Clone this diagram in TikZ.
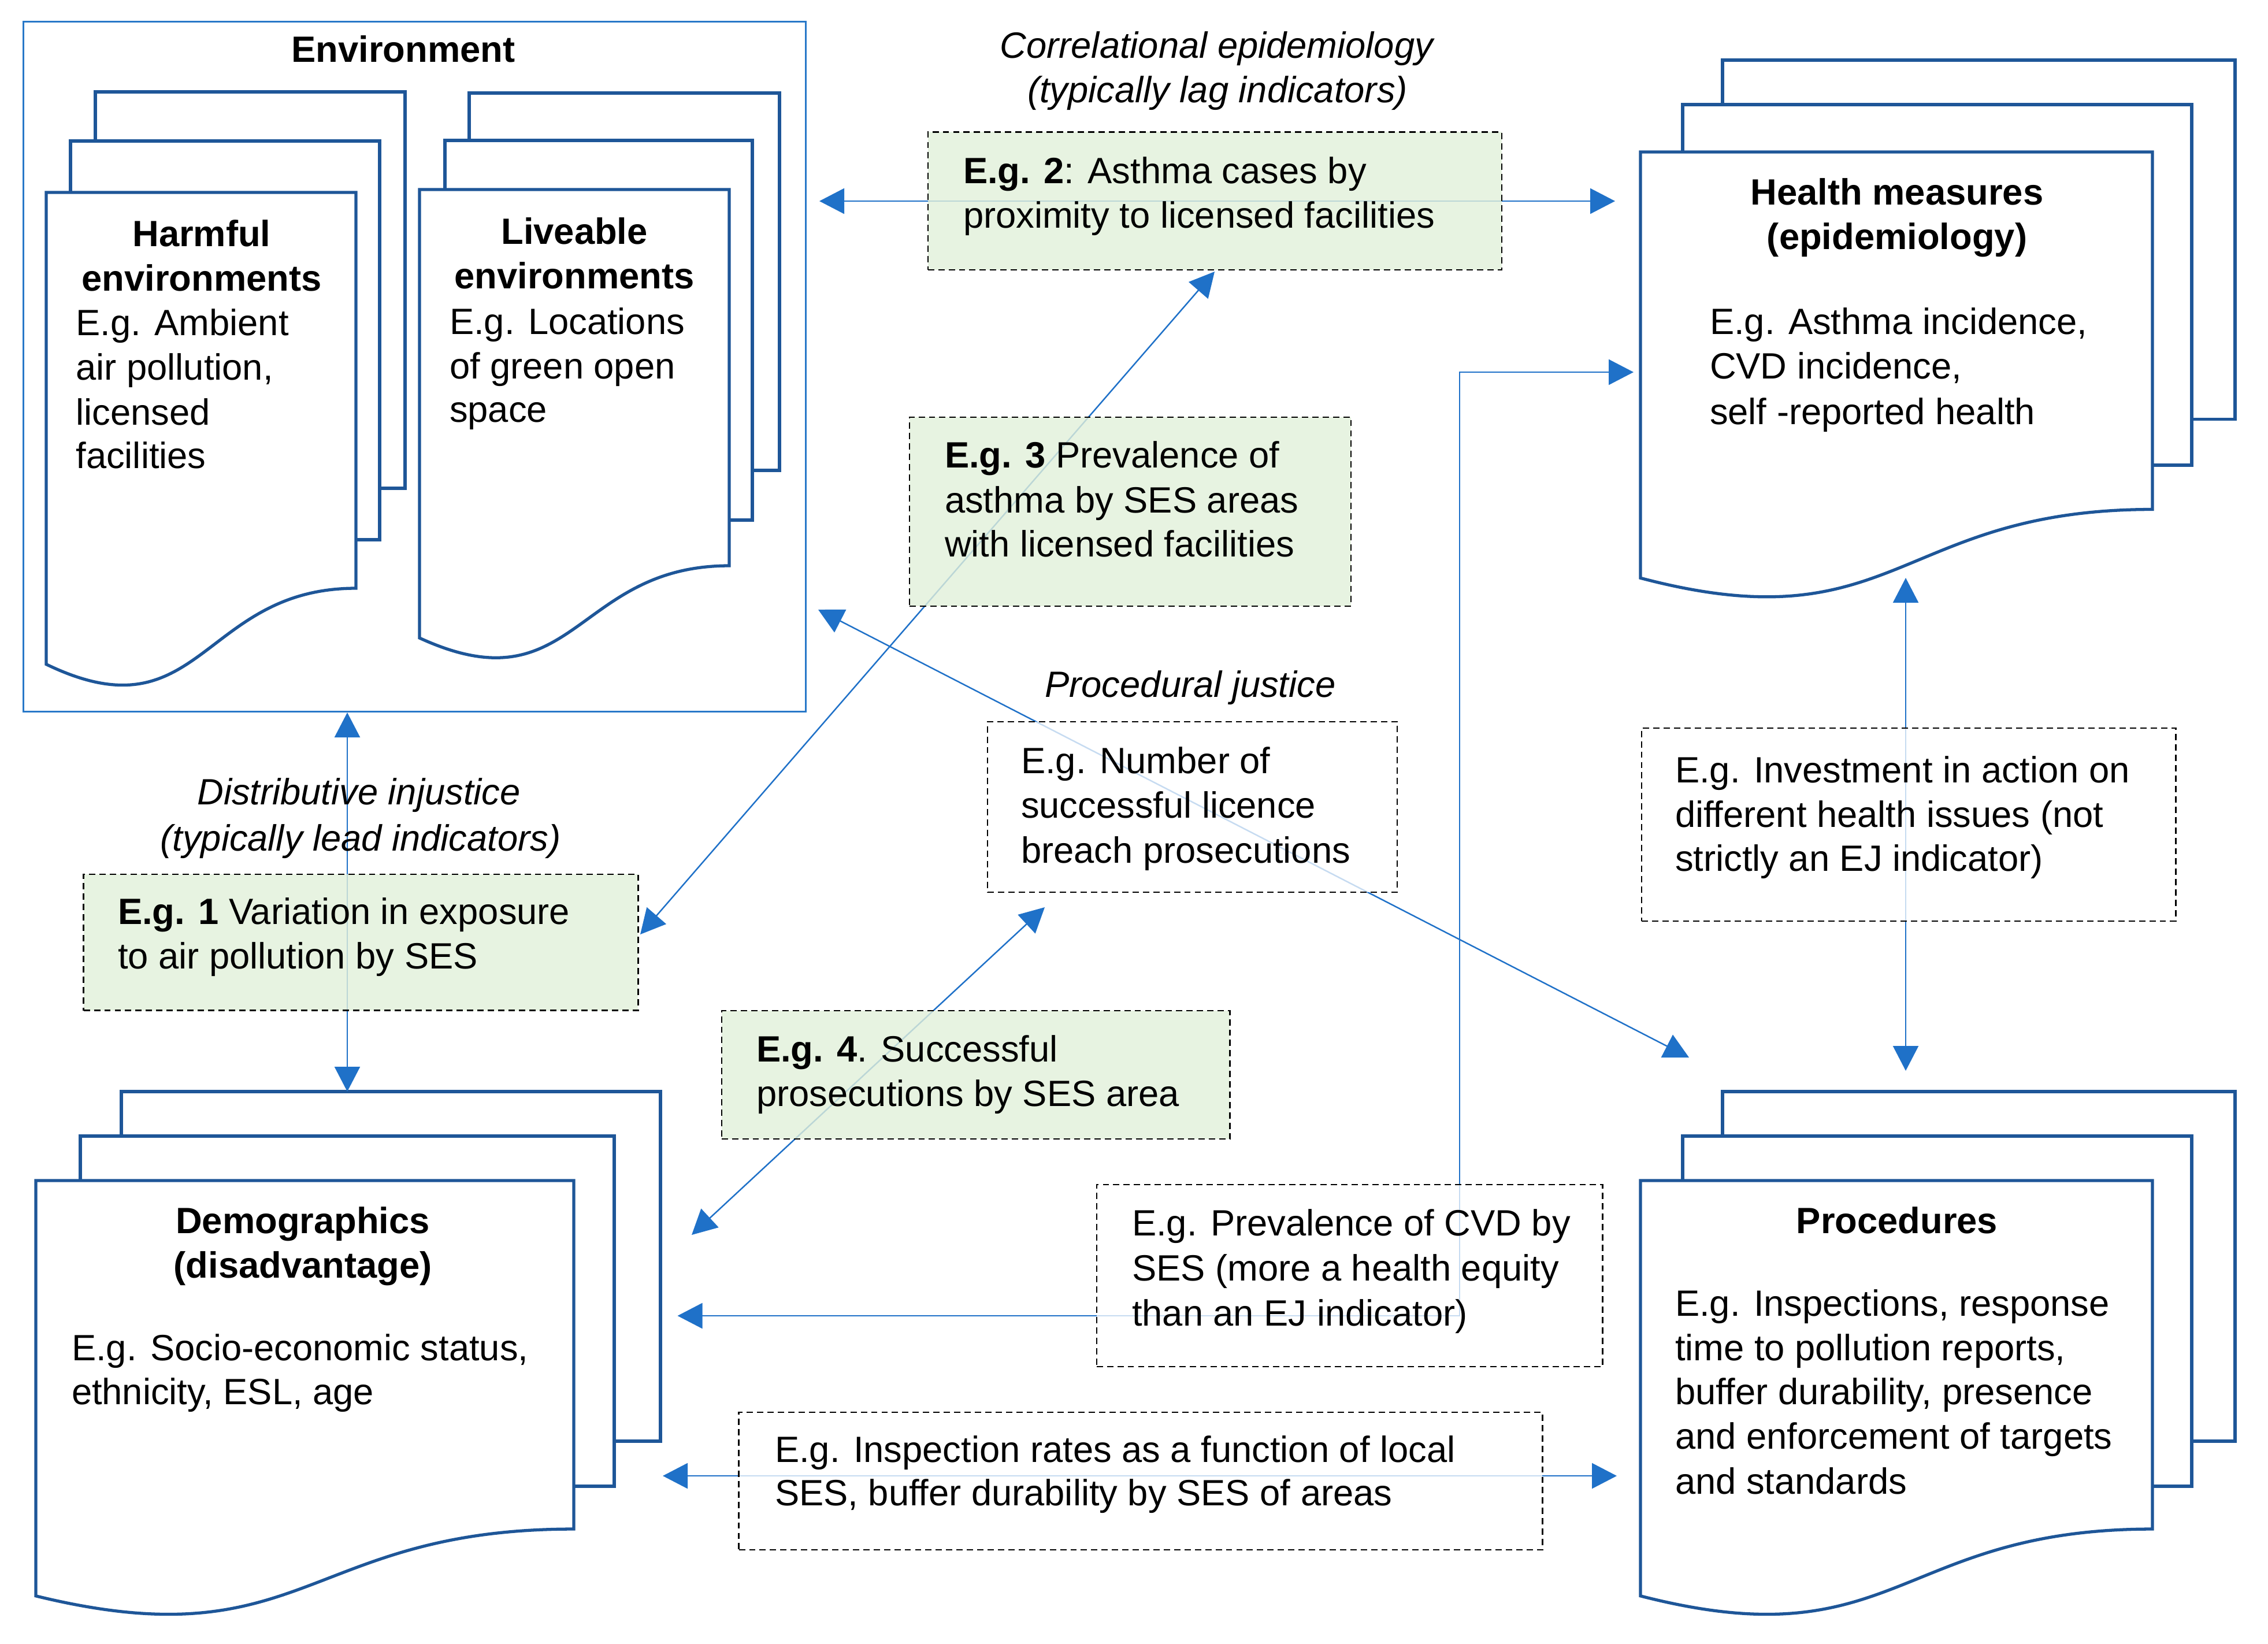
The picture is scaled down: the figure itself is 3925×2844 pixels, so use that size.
\documentclass[tikz,border=0pt]{standalone}
\usepackage{fontspec}
\setmainfont{Liberation Sans}
\usetikzlibrary{arrows.meta}
\definecolor{stackblue}{RGB}{30,86,152}
\definecolor{envblue}{RGB}{40,120,200}
\definecolor{arrblue}{RGB}{31,113,200}
\definecolor{egreen}{RGB}{226,240,218}
\newcommand{\mydoc}[4]{%
  \pgfmathsetmacro{\dA}{#4-#3}%
  \pgfmathsetmacro{\dL}{#4+0.192*\dA}%
  \pgfmathsetmacro{\dC}{#4+0.381*\dA}%
  \pgfmathsetmacro{\dM}{(#1+#2)/2}%
  \draw[stackline,fill=white] (#1,#3) -- (#2,#3) -- (#2,#4) .. controls (\dM,#4) and (\dM,\dC) .. (#1,\dL) -- cycle;}
\newcommand{\bnode}[6]{%
  \pgfmathsetmacro{\bw}{(#5-#3)/100}%
  \pgfmathsetmacro{\bh}{(#6-#4)/100}%
  \node[#1,minimum width=\bw cm,minimum height=\bh cm] (#2) at ({(#3+#5)/2},{(#4+#6)/2}) {};}
\newcommand{\tl}[4]{\node[txt,anchor=base west] (#1) at (#2,#3) {#4};}
\newcommand{\tc}[4]{\node[txt,anchor=base] (#1) at (#2,#3) {#4};}
\begin{document}
\begin{tikzpicture}[x=0.01cm,y=-0.01cm,
  stackline/.style={draw=stackblue,line width=1.5pt,line join=miter},
  envline/.style={draw=envblue,line width=0.8pt},
  conn/.style={draw=arrblue,line width=0.7pt,>={Triangle[length=4.3mm,width=4.4mm]},<->},
  dbox/.style={shape=rectangle,draw=black,line width=0.7pt,dash pattern=on 3.1pt off 2pt,inner sep=0pt,outer sep=0pt},
  gbox/.style={dbox,fill=egreen,fill opacity=0.8},
  wbox/.style={dbox,fill=white,fill opacity=0.75},
  txt/.style={inner sep=0pt,outer sep=0pt,font=\fontsize{18}{22}\selectfont,text=black}]
\useasboundingbox (0,0) rectangle (3925,2844);
\fill[white] (0,0) rectangle (3925,2844);

% Environment frame
\bnode{envline,shape=rectangle,inner sep=0pt,outer sep=0pt}{env}{40.8}{38}{1394}{1231}

% Harmful stack
\draw[stackline,fill=white] (165,159) rectangle (701,845);
\draw[stackline,fill=white] (122,244) rectangle (657,934);
\mydoc{80}{616}{333}{1018}
% Liveable stack
\draw[stackline,fill=white] (812,161) rectangle (1349,814);
\draw[stackline,fill=white] (770,243) rectangle (1302,900);
\mydoc{726}{1262}{328}{979}
% Health stack
\draw[stackline,fill=white] (2981,104) rectangle (3868,725.5);
\draw[stackline,fill=white] (2912,181) rectangle (3793,805);
\mydoc{2839}{3725}{263}{881.5}
% Demographics stack
\draw[stackline,fill=white] (210,1889) rectangle (1143,2494);
\draw[stackline,fill=white] (139,1966) rectangle (1063,2572);
\mydoc{62}{993}{2043}{2646}
% Procedures stack
\draw[stackline,fill=white] (2981,1889) rectangle (3868,2494);
\draw[stackline,fill=white] (2912,1966) rectangle (3793,2572);
\mydoc{2839}{3725}{2043}{2646}

% connector end points
\coordinate (envB) at (601,1233);
\coordinate (demT) at (601,1889);
\coordinate (envR) at (1418,348);
\coordinate (heaL) at (2795,348);
\coordinate (eg1R) at (1108,1617);
\coordinate (eg2B) at (2102,470);
\coordinate (envR2) at (1416,1055);
\coordinate (proTL) at (2923,1830);
\coordinate (heaB) at (3298,1000);
\coordinate (proT) at (3298,1853);
\coordinate (demR1) at (1172.5,2277);
\coordinate (elbB) at (2526,2277);
\coordinate (elbT) at (2526,644);
\coordinate (heaL2) at (2827,644);
\coordinate (demR2) at (1197,2137);
\coordinate (prjB) at (1808,1570);
\coordinate (demR3) at (1147,2554);
\coordinate (proL) at (2798,2554);

% connectors
\draw[conn] (envB) -- (demT);
\draw[conn] (envR) -- (heaL);
\draw[conn] (eg1R) -- (eg2B);
\draw[conn] (envR2) -- (proTL);
\draw[conn] (heaB) -- (proT);
\draw[conn] (demR1) -- (elbB) -- (elbT) -- (heaL2);
\draw[conn] (demR2) -- (prjB);
\draw[conn] (demR3) -- (proL);

% dashed boxes
\bnode{gbox}{eg1}{145}{1513}{1104}{1748.5}
\bnode{gbox}{eg2}{1606}{228.5}{2598.5}{467}
\bnode{gbox}{eg3}{1574}{722}{2338}{1049}
\bnode{gbox}{eg4}{1249}{1749}{2128}{1971}
\bnode{wbox}{prj}{1709}{1249}{2418}{1544}
\bnode{wbox}{inv}{2841}{1260}{3765}{1594}
\bnode{wbox}{cvd}{1898}{2050}{2773}{2365}
\bnode{wbox}{insp}{1279}{2444}{2669}{2682}

% texts
\tc{envT}{698}{107}{\textbf{Environment}}
\tc{harA}{349}{426}{\textbf{Harmful}}
\tc{harB}{349}{503}{\textbf{environments}}
\tl{harC}{131.5}{580}{E.g. Ambient}
\tl{harD}{131.5}{657}{air pollution,}
\tl{harE}{131.5}{735}{licensed}
\tl{harF}{131.5}{810}{facilities}
\tc{livA}{994}{422}{\textbf{Liveable}}
\tc{livB}{994}{499}{\textbf{environments}}
\tl{livC}{778}{578}{E.g. Locations}
\tl{livD}{778}{655}{of green open}
\tl{livE}{778}{730}{space}
\tc{heaA}{3283}{354}{\textbf{Health measures}}
\tc{heaBt}{3283}{431}{\textbf{(epidemiology)}}
\tl{heaC}{2959}{578}{E.g. Asthma incidence,}
\tl{heaD}{2959}{655}{CVD incidence,}
\tl{heaE}{2959}{734}{self -reported health}
\tc{proA}{3283}{2134}{\textbf{Procedures}}
\tl{proB}{2899}{2277}{E.g. Inspections, response}
\tl{proC}{2899}{2354}{time to pollution reports,}
\tl{proD}{2899}{2430}{buffer durability, presence}
\tl{proE}{2899}{2507}{and enforcement of targets}
\tl{proF}{2899}{2585}{and standards}
\tc{demA}{524}{2134}{\textbf{Demographics}}
\tc{demB}{524}{2211}{\textbf{(disadvantage)}}
\tl{demC}{124}{2354}{E.g. Socio-economic status,}
\tl{demD}{124}{2430}{ethnicity, ESL, age}
\tc{corA}{2107}{100}{\textit{Correlational epidemiology}}
\tc{corB}{2107}{177}{\textit{(typically lag indicators)}}
\tc{disA}{621}{1392}{\textit{Distributive injustice}}
\tc{disB}{624}{1472}{\textit{(typically lead indicators)}}
\tc{prjT}{2060}{1206}{\textit{Procedural justice}}
\tl{e1a}{204}{1599}{\textbf{E.g. 1} Variation in exposure}
\tl{e1b}{204}{1676}{to air pollution by SES}
\tl{e2a}{1667}{317}{\textbf{E.g. 2}: Asthma cases by}
\tl{e2b}{1667}{394.5}{proximity to licensed facilities}
\tl{e3a}{1635}{809}{\textbf{E.g. 3} Prevalence of}
\tl{e3b}{1635}{887}{asthma by SES areas}
\tl{e3c}{1635}{963}{with licensed facilities}
\tl{e4a}{1309}{1837}{\textbf{E.g. 4}. Successful}
\tl{e4b}{1309}{1914}{prosecutions by SES area}
\tl{pja}{1767}{1338}{E.g. Number of}
\tl{pjb}{1767}{1415}{successful licence}
\tl{pjc}{1767}{1493}{breach prosecutions}
\tl{iva}{2899}{1354}{E.g. Investment in action on}
\tl{ivb}{2899}{1431}{different health issues (not}
\tl{ivc}{2899}{1507}{strictly an EJ indicator)}
\tl{cva}{1959}{2138}{E.g. Prevalence of CVD by}
\tl{cvb}{1959}{2216}{SES (more a health equity}
\tl{cvc}{1959}{2294}{than an EJ indicator)}
\tl{ina}{1341}{2530}{E.g. Inspection rates as a function of local}
\tl{inb}{1341}{2605}{SES, buffer durability by SES of areas}
\end{tikzpicture}
\end{document}
